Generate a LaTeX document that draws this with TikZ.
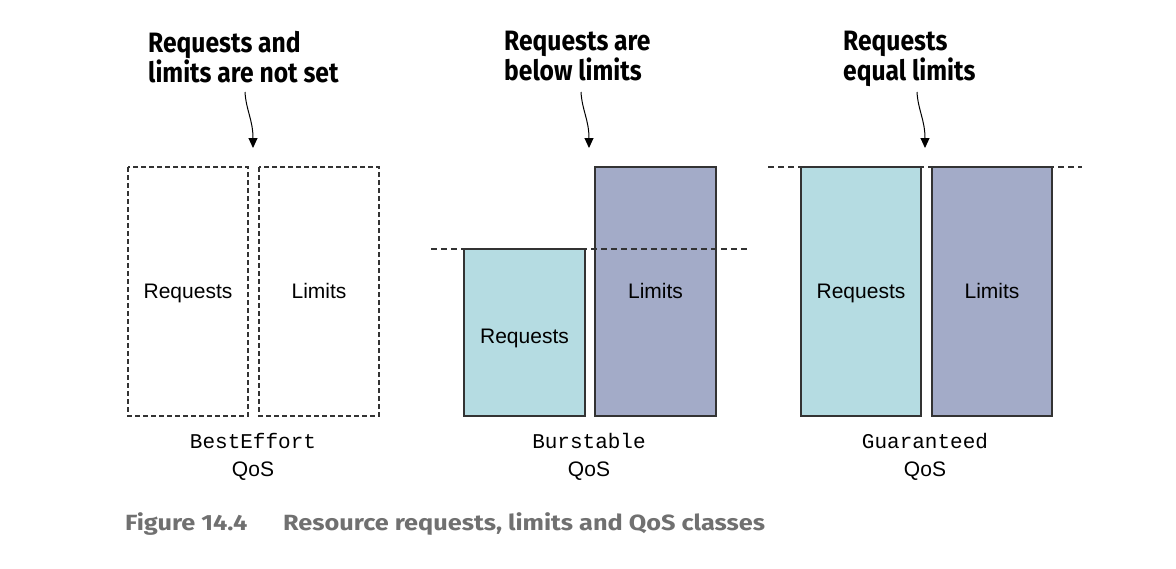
\documentclass[tikz,border=0pt]{standalone}
\usepackage{fontspec}
\setmainfont{Liberation Sans}
\setmonofont{Liberation Mono}
\newfontfamily\headfont[FakeStretch=0.88]{Fira Sans}
\newfontfamily\capfont[FakeStretch=1.15]{Fira Sans}
\usetikzlibrary{arrows.meta}
\definecolor{reqfill}{HTML}{B5DCE2}
\definecolor{limfill}{HTML}{A3ABC8}
\definecolor{edge}{HTML}{333333}
\definecolor{capgray}{HTML}{707070}
\tikzset{
  dashbox/.style={draw=edge, line width=1.1pt, dash pattern=on 5pt off 3pt},
  solidbox/.style={draw=edge, line width=1.6pt},
  boxlabel/.style={font=\fontsize{21}{24}\selectfont, text=black, inner sep=0pt, anchor=base},
  monolabel/.style={font=\ttfamily\fontsize{21}{24}\selectfont, inner sep=0pt, anchor=base},
  qoslabel/.style={font=\fontsize{21}{24}\selectfont, inner sep=0pt, anchor=base},
  heading/.style={font=\headfont\bfseries\fontsize{28}{30}\selectfont, align=left, anchor=north west, inner sep=0pt},
  captext/.style={font=\capfont\bfseries\fontsize{22}{26}\selectfont, text=capgray, anchor=base west, inner sep=0pt},
  guide/.style={draw=edge, line width=1.1pt, dash pattern=on 6pt off 4pt},
  pointer/.style={draw=black, line width=1pt, -{Triangle[length=10pt,width=9pt]}},
}
\begin{document}
\begin{tikzpicture}[x=1pt,y=-1pt]
\useasboundingbox[fill=white] (0,0) rectangle (1176,568);

% headings
\node[heading] (h1) at (148,31) {Requests and\\limits are not set};
\node[heading] (h2) at (504,31) {Requests are\\below limits};
\node[heading] (h3) at (843,31) {Requests\\equal limits};

% BestEffort
\draw[dashbox] (128,167) rectangle (248,416);
\draw[dashbox] (259,167) rectangle (379,416);
\node[boxlabel] (r1) at (188,298) {Requests};
\node[boxlabel] (l1) at (319,298) {Limits};

% Burstable
\fill[reqfill] (464,249) rectangle (585,416);
\fill[limfill] (595,167) rectangle (716,416);
\draw[solidbox] (464,249) rectangle (585,416);
\draw[solidbox] (595,167) rectangle (716,416);
\draw[guide] (431,249) -- (750,249);
\node[boxlabel] (r2) at (524.5,343) {Requests};
\node[boxlabel] (l2) at (655.5,298) {Limits};

% Guaranteed
\fill[reqfill] (801,167) rectangle (921,416);
\fill[limfill] (932,167) rectangle (1052,416);
\draw[guide] (768,167) -- (1082,167);
\draw[solidbox] (801,167) rectangle (921,416);
\draw[solidbox] (932,167) rectangle (1052,416);
\node[boxlabel] (r3) at (861,298) {Requests};
\node[boxlabel] (l3) at (992,298) {Limits};

% arrows
\coordinate (a1s) at (245,92);  \coordinate (a1e) at (253,148);
\coordinate (a2s) at (581,92);  \coordinate (a2e) at (589,148);
\coordinate (a3s) at (917,92);  \coordinate (a3e) at (925,148);
\draw[pointer] (a1s) .. controls (246,110) and (253,120) .. (a1e);
\draw[pointer] (a2s) .. controls (582,110) and (589,120) .. (a2e);
\draw[pointer] (a3s) .. controls (918,110) and (925,120) .. (a3e);

% class labels
\node[monolabel] (c1) at (253,448) {BestEffort};
\node[qoslabel] (q1) at (253,476) {QoS};
\node[monolabel] (c2) at (589,448) {Burstable};
\node[qoslabel] (q2) at (589,476) {QoS};
\node[monolabel] (c3) at (925,448) {Guaranteed};
\node[qoslabel] (q3) at (925,476) {QoS};

% caption
\node[captext] (cap1) at (125,530) {Figure 14.4};
\node[captext] (cap2) at (283,530) {Resource requests, limits and QoS classes};
\end{tikzpicture}
\end{document}
